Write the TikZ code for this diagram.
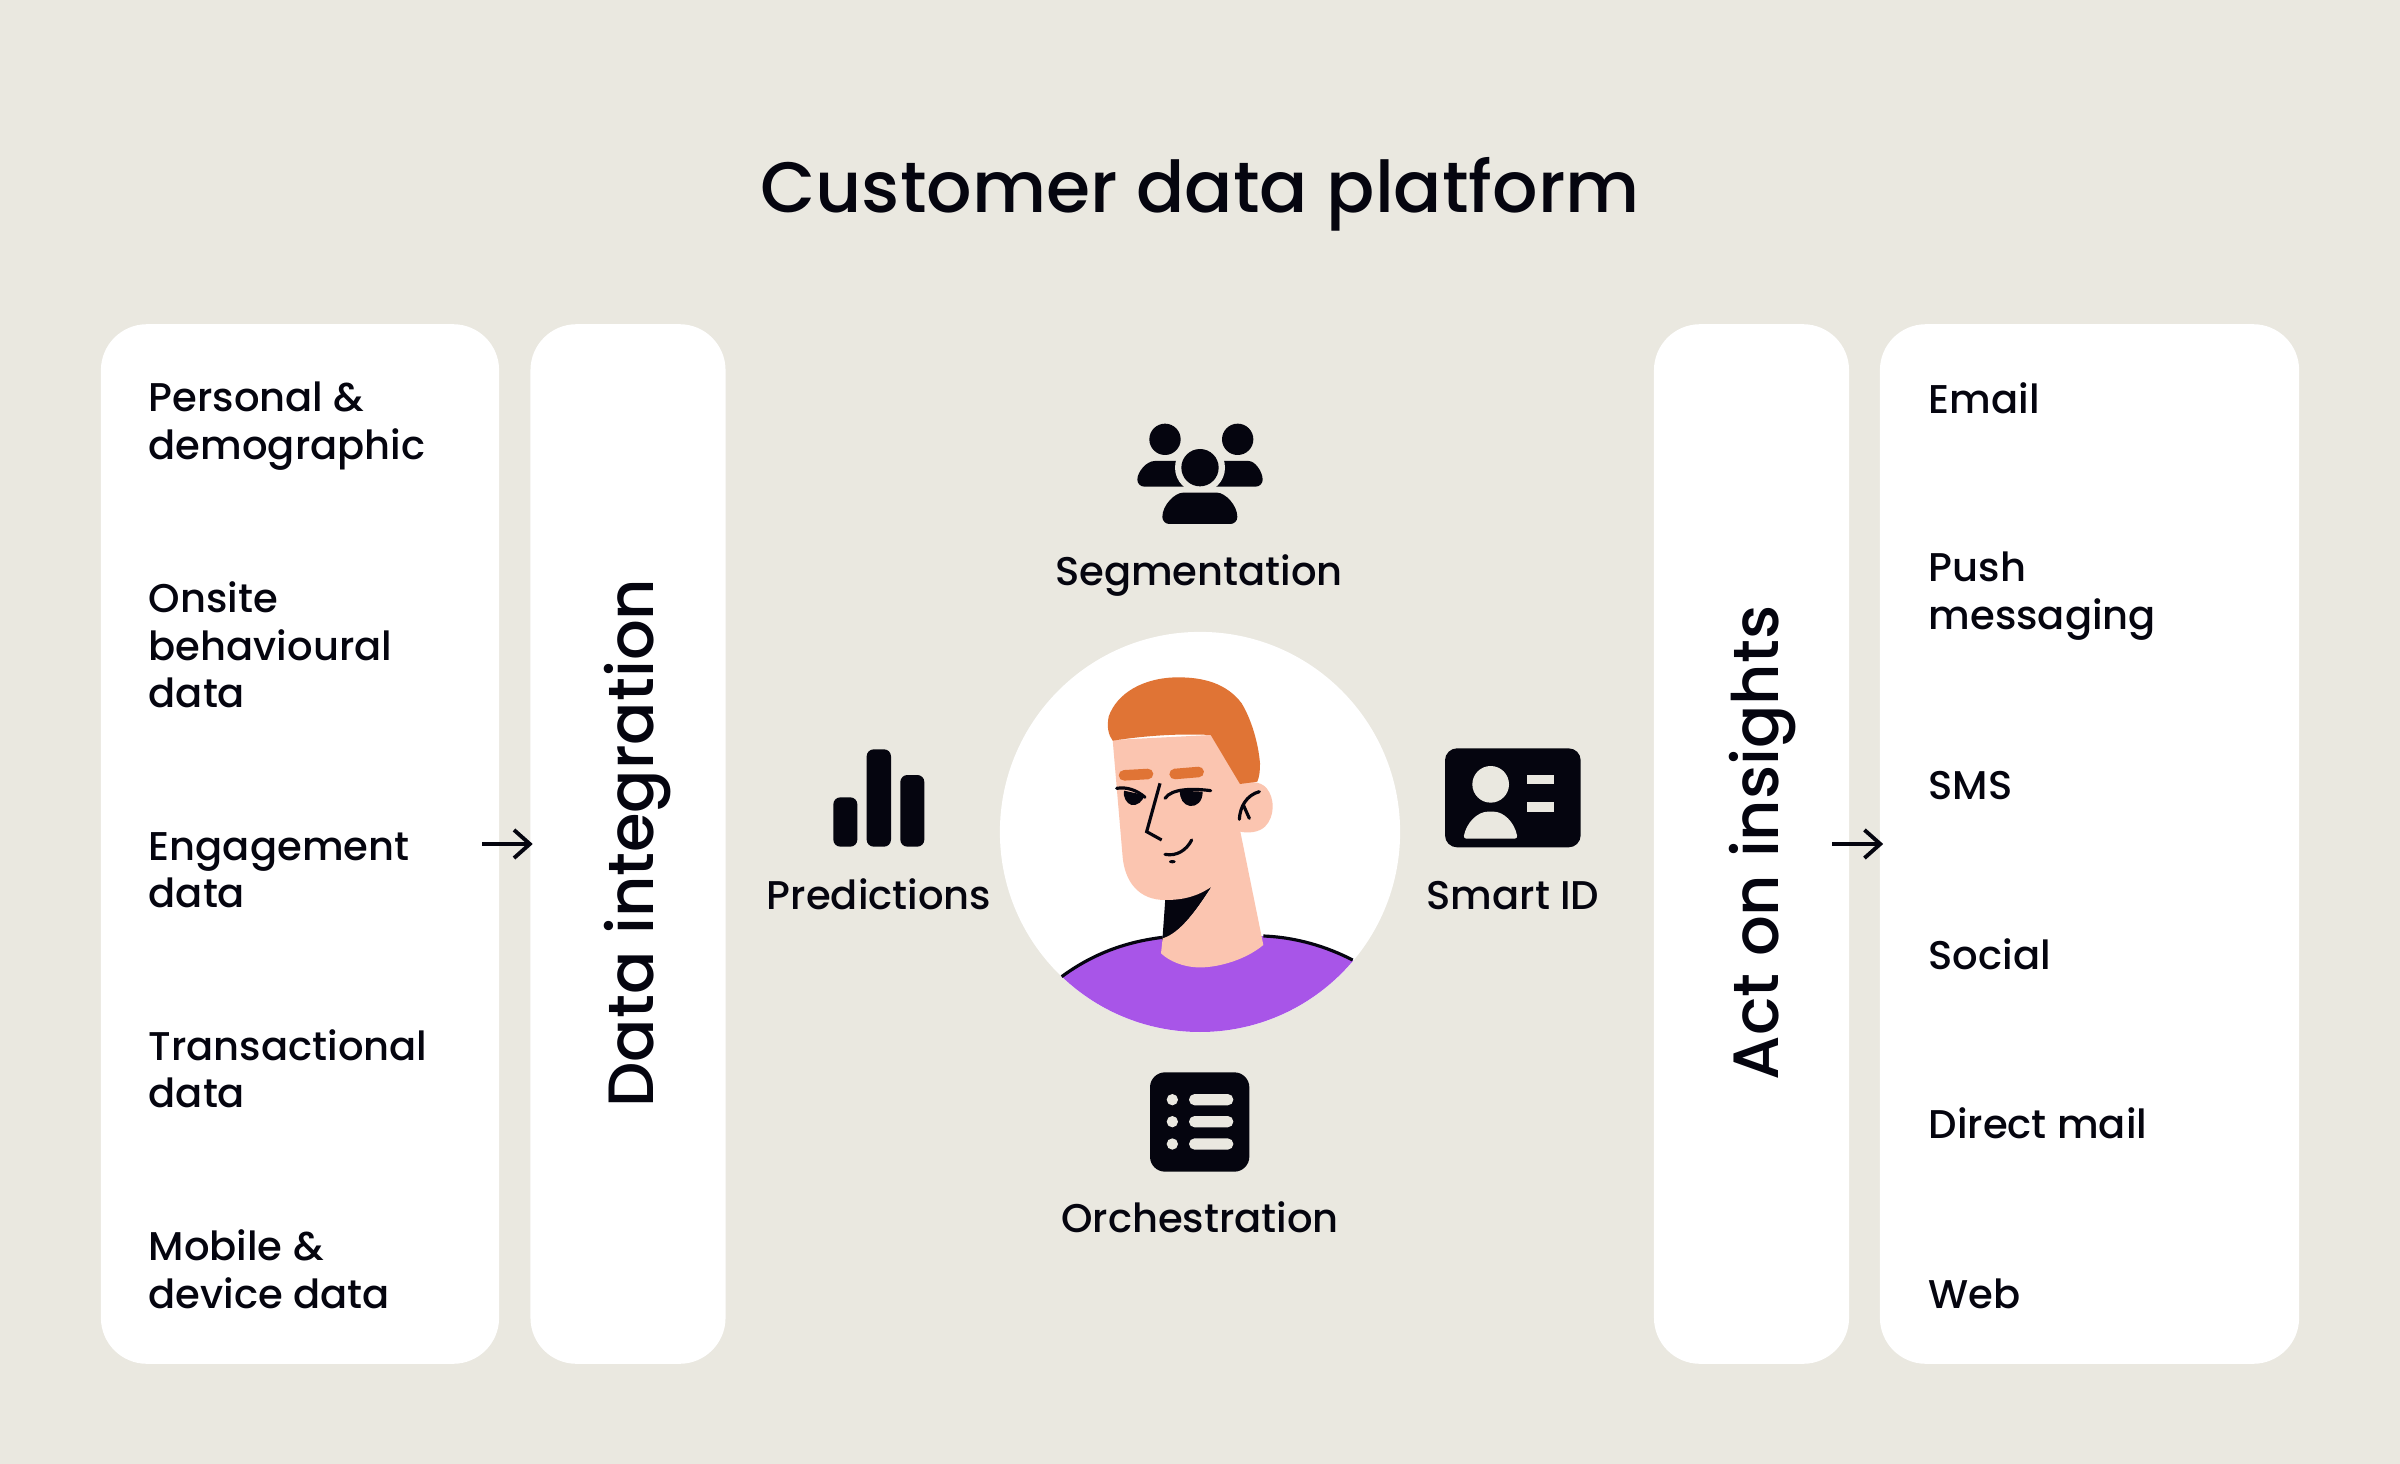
\documentclass[tikz,border=0pt]{standalone}
\usepackage{fontspec}
\setmainfont{Poppins Medium}
\usetikzlibrary{arrows.meta}
\definecolor{bgcol}{HTML}{EAE8E0}
\definecolor{inkcol}{HTML}{05050F}
\definecolor{haircol}{HTML}{E07435}
\definecolor{skincol}{HTML}{FBC5B0}
\definecolor{shirtcol}{HTML}{A855E8}
\begin{document}
\begin{tikzpicture}[x=0.01cm,y=-0.01cm,>={Straight Barb[length=4.5pt,width=8pt]}]
 \tikzstyle{panelbox} = [fill=white,rounded corners=0.46cm,inner sep=0,minimum height=10.39cm]
 \tikzstyle{itemtext} = [anchor=west,align=left,inner sep=0,font=\fontsize{11.4}{13.5}\selectfont,text=inkcol]
 \tikzstyle{icontext} = [anchor=base,inner sep=0,font=\fontsize{11.4}{13.5}\selectfont,text=inkcol]
 \tikzstyle{sidetext} = [anchor=base,inner sep=0,rotate=90,font=\fontsize{18.2}{24}\selectfont,text=inkcol]
 \tikzstyle{flowarrow} = [->,draw=inkcol,line width=1.1pt]
 \tikzstyle{inkline} = [draw=inkcol,line width=0.9pt,line cap=round]
 \tikzstyle{browline} = [draw=haircol,line width=3pt,line cap=round]

 % background
 \fill[bgcol] (0,0) rectangle (2400,1464);
 \node[anchor=base,inner sep=0,font=\fontsize{20.3}{30}\selectfont,text=inkcol] (title) at (1200,213) {Customer data platform};

 % panels
 \node[panelbox,minimum width=3.98cm] (sources) at (300,844) {};
 \node[panelbox,minimum width=1.95cm] (integration) at (628,844) {};
 \node[panelbox,minimum width=1.95cm] (insights) at (1751.5,844) {};
 \node[panelbox,minimum width=4.19cm] (channels) at (2089.5,844) {};

 \node[sidetext] (integrationlabel) at (653,843) {Data integration};
 \node[sidetext] (insightslabel) at (1778,843) {Act on insights};

 % left items
 \node[itemtext] (personal) at (148,426) {Personal \&\\demographic};
 \node[itemtext] (onsite) at (148,645) {Onsite\\behavioural\\data};
 \node[itemtext] (engagement) at (148,870) {Engagement\\data};
 \node[itemtext] (transactional) at (148,1069) {Transactional\\data};
 \node[itemtext] (mobile) at (148,1269) {Mobile \&\\device data};

 % right items
 \node[itemtext] (email) at (1928,398) {Email};
 \node[itemtext] (push) at (1928,596) {Push\\messaging};
 \node[itemtext] (sms) at (1928,786) {SMS};
 \node[itemtext] (social) at (1928,954) {Social};
 \node[itemtext] (directmail) at (1928,1123) {Direct mail};
 \node[itemtext] (web) at (1928,1294) {Web};

 % arrows
 \coordinate (arrowin) at (482,844);
 \coordinate (arrowout) at (1832,844);
 \draw[flowarrow] (arrowin) -- ([xshift=0.03cm]arrowin -| integration.west);
 \draw[flowarrow] (arrowout) -- ([xshift=0.04cm]arrowout -| channels.west);

 % person
 \node[circle,fill=white,inner sep=0,minimum size=4cm] (person) at (1200,832) {};
 \begin{scope}[shift={(980,600)},scale=1/3]
  \begin{scope}
   \clip (660,696) circle (600);
   \fill[shirtcol] (245,1130) .. controls (340,1060) and (440,1025) .. (548,1012)
     -- (850,1008) .. controls (950,1012) and (1040,1040) .. (1118,1080)
     -- (1300,1310) -- (60,1310) -- cycle;
  \end{scope}
  \draw[inkline,line cap=butt] (245,1130) .. controls (340,1060) and (440,1025) .. (548,1012);
  \draw[inkline,line cap=butt] (850,1008) .. controls (950,1012) and (1040,1040) .. (1118,1080);
  % neck shadow
  \fill[inkcol] (556,895) -- (695,860) .. controls (650,930) and (600,1000) .. (547,1022) -- cycle;
  % ear, neck and face
  \fill[skincol] (780,552) .. controls (800,545) and (840,540) .. (860,565)
     .. controls (885,595) and (885,650) .. (855,680)
     .. controls (835,698) and (805,700) .. (780,695) -- cycle;
  \fill[skincol] (398,420) -- (692,405) -- (780,545) -- (780,690) -- (850,1035)
     .. controls (790,1085) and (700,1105) .. (650,1102)
     .. controls (610,1100) and (570,1085) .. (543,1060) -- (548,1015)
     .. controls (600,1000) and (650,930) .. (695,860)
     .. controls (650,890) and (610,900) .. (555,900)
     .. controls (480,900) and (432,850) .. (427,760) -- cycle;
  % hair
  \fill[haircol] (398,422) .. controls (385,405) and (380,380) .. (386,350)
     .. controls (410,280) and (490,232) .. (595,232)
     .. controls (670,232) and (740,250) .. (785,310)
     .. controls (815,360) and (835,430) .. (840,490)
     .. controls (840,515) and (838,530) .. (832,545) -- (780,552) -- (692,405)
     .. controls (590,400) and (490,408) .. (398,422) -- cycle;
  \draw[browline] (432,526) -- (504,522);
  \draw[browline] (584,522) -- (656,516);
  % eyes
  \fill[inkcol] (432,572) -- (492,585) .. controls (490,605) and (470,618) .. (455,615)
     .. controls (440,612) and (428,590) .. (432,572) -- cycle;
  \fill[inkcol] (600,572) -- (668,575) .. controls (668,605) and (650,620) .. (630,618)
     .. controls (610,615) and (598,595) .. (600,572) -- cycle;
  \draw[inkline] (410,565) .. controls (440,560) and (470,570) .. (495,592);
  \draw[inkline] (555,595) .. controls (575,565) and (640,565) .. (692,572);
  % nose, mouth, ear lines
  \draw[inkline,line cap=butt] (540,550) -- (500,695) -- (545,720);
  \draw[inkline] (555,763) .. controls (590,770) and (620,750) .. (635,720);
  \fill[inkcol] (577,785) ellipse (10 and 5);
  \draw[inkline] (838,575) .. controls (800,585) and (780,620) .. (778,658);
  \draw[inkline] (790,615) -- (808,655);
 \end{scope}

 % segmentation icon
 \begin{scope}[shift={(1100,400)},scale=1/3]
  \fill[inkcol] (195,118) circle (47);
  \fill[inkcol] (413,118) circle (47);
  \fill[inkcol,rounded corners=0.07cm] (112,260) .. controls (112,215) and (140,183) .. (185,183)
     -- (220,183) .. controls (260,183) and (280,215) .. (280,260) -- cycle;
  \fill[inkcol,rounded corners=0.07cm] (320,260) .. controls (320,215) and (340,183) .. (380,183)
     -- (425,183) .. controls (465,183) and (488,215) .. (488,260) -- cycle;
  \fill[bgcol] (300,203) circle (75);
  \fill[bgcol] (220,262) rectangle (380,275);
  \fill[inkcol] (300,203) circle (56);
  \fill[inkcol,rounded corners=0.07cm] (187,372) .. controls (187,315) and (225,278) .. (270,278)
     -- (330,278) .. controls (375,278) and (412,315) .. (412,372) -- cycle;
 \end{scope}
 \node[icontext] (segmentation) at (1199,585) {Segmentation};

 % predictions icon
 \begin{scope}[shift={(800,730)},scale=1/3]
  \fill[inkcol,rounded corners=0.07cm] (100,202) rectangle (172,350);
  \fill[inkcol,rounded corners=0.07cm] (200,58) rectangle (273,350);
  \fill[inkcol,rounded corners=0.07cm] (301,135) rectangle (373,350);
 \end{scope}
 \node[icontext] (predictions) at (879,909) {Predictions};

 % smart id icon
 \begin{scope}[shift={(1420,730)},scale=1/3]
  \fill[inkcol,rounded corners=0.12cm] (75,55) rectangle (482,352);
  \fill[bgcol] (212,163) circle (55);
  \fill[bgcol,rounded corners=0.03cm] (130,326) .. controls (140,275) and (175,245) .. (212,245)
     .. controls (250,245) and (283,275) .. (293,326) -- cycle;
  \fill[bgcol] (320,135) rectangle (402,163);
  \fill[bgcol] (320,217) rectangle (402,245);
 \end{scope}
 \node[icontext] (smartid) at (1513,909) {Smart ID};

 % orchestration icon
 \begin{scope}[shift={(1130,1050)},scale=1/3]
  \fill[inkcol,rounded corners=0.15cm] (60,67) rectangle (358,365);
  \fill[bgcol] (127,149) circle (17);
  \fill[bgcol] (127,215) circle (17);
  \fill[bgcol] (127,282) circle (17);
  \fill[bgcol,rounded corners=0.056cm] (177,132) rectangle (310,166);
  \fill[bgcol,rounded corners=0.056cm] (177,198) rectangle (310,232);
  \fill[bgcol,rounded corners=0.056cm] (177,265) rectangle (310,299);
 \end{scope}
 \node[icontext] (orchestration) at (1200,1232) {Orchestration};
\end{tikzpicture}
\end{document}
